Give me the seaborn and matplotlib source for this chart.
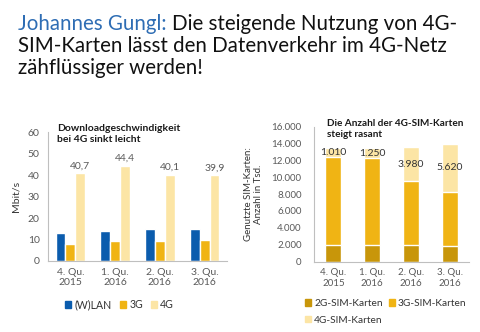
import matplotlib
matplotlib.use("Agg")
import matplotlib.pyplot as plt
import seaborn as sns
import pandas as pd
import numpy as np
from matplotlib.patches import Patch
from matplotlib.ticker import FuncFormatter, FixedLocator

quarters = ["4. Qu.\n2015", "1. Qu.\n2016", "2. Qu.\n2016", "3. Qu.\n2016"]
speed_wlan = [12.8, 13.9, 15.0, 14.7]
speed_3g = [7.8, 9.1, 9.1, 9.7]
speed_4g = [40.7, 44.4, 40.1, 39.9]
speed_labels = ["40,7", "44,4", "40,1", "39,9"]

sim_2g = [1980, 1900, 1900, 1850]
sim_3g = [10470, 10350, 7665, 6450]
sim_4g = [1010, 1250, 3980, 5620]
sim_labels = ["1.010", "1.250", "3.980", "5.620"]

C_WLAN = "#0b5cad"
C_3G = "#f0b414"
C_4G = "#fce5a5"
C_2G = "#c8960a"
GRAY = "#595959"

sns.set_theme(style="white")
plt.rcParams["font.family"] = ["Lato", "DejaVu Sans"]

W, H = 480, 332
fig = plt.figure(figsize=(4.8, 3.32), dpi=100)

# Title
TS = 14.8
t1 = fig.text(18 / W, 1 - 30 / H, "Johannes Gungl:", color="#2e6db4", fontsize=TS, va="baseline", ha="left")
r = fig.canvas.get_renderer()
bb = t1.get_window_extent(renderer=r)
fig.text((bb.x1 + 5) / W, 1 - 30 / H, "Die steigende Nutzung von 4G-", color="#111111", fontsize=TS,
         va="baseline", ha="left")
fig.text(18 / W, 1 - 52.5 / H, "SIM-Karten lässt den Datenverkehr im 4G-Netz", color="#111111",
         fontsize=TS, va="baseline", ha="left")
fig.text(18 / W, 1 - 74.5 / H, "zähflüssiger werden!", color="#111111", fontsize=TS,
         va="baseline", ha="left")


def style_axes(ax, fs):
    for sp in ["top", "right"]:
        ax.spines[sp].set_visible(False)
    for sp in ["left", "bottom"]:
        ax.spines[sp].set_color("#bfbfbf")
        ax.spines[sp].set_linewidth(0.8)
    ax.tick_params(axis="both", which="both", labelsize=fs, colors=GRAY, width=0.8, color="#bfbfbf")
    ax.tick_params(axis="y", length=4, pad=2)
    ax.tick_params(axis="x", which="major", length=0, pad=5)
    ax.tick_params(axis="x", which="minor", length=4)
    ax.xaxis.set_minor_locator(FixedLocator([-0.5, 0.5, 1.5, 2.5, 3.5]))
    ax.set_xlim(-0.5, 3.5)
    ax.set_xlabel("")


# ---- Left chart
ax1 = fig.add_axes([48 / W, 1 - 261 / H, 179 / W, 129 / H])
df1 = pd.DataFrame({
    "quarter": quarters * 3,
    "tech": ["(W)LAN"] * 4 + ["3G"] * 4 + ["4G"] * 4,
    "value": speed_wlan + speed_3g + speed_4g,
})
sns.barplot(data=df1, x="quarter", y="value", hue="tech", order=quarters,
            hue_order=["(W)LAN", "3G", "4G"],
            palette=[C_WLAN, C_3G, C_4G], width=0.66, saturation=1,
            legend=False, ax=ax1, errorbar=None)
ax1.set_ylim(0, 60)
ax1.set_yticks(range(0, 61, 10))
style_axes(ax1, 7.5)
ax1.set_ylabel("Mbit/s", fontsize=7.5, color="#333333", labelpad=5)
bars4g = ax1.containers[2]
ax1.bar_label(bars4g, labels=speed_labels, fontsize=7.5, color=GRAY, padding=2)
fig.text(57 / W, 1 - 124 / H, "Downloadgeschwindigkeit\nbei 4G sinkt leicht",
         fontsize=7.45, fontweight="bold", color="#1a1a1a", va="top", ha="left", linespacing=1.3)
fig.legend(handles=[Patch(color=C_WLAN, label="(W)LAN"), Patch(color=C_3G, label="3G"),
                    Patch(color=C_4G, label="4G")],
           loc="center left", bbox_to_anchor=(65 / W, 1 - 305 / H), ncol=3, frameon=False,
           fontsize=7.6, handlelength=0.6, handleheight=0.6, handletextpad=0.3,
           columnspacing=0.75, labelcolor="#333333", borderpad=0, borderaxespad=0)

# ---- Right chart (stacked)
ax2 = fig.add_axes([314 / W, 1 - 261.5 / H, 155 / W, 134.8 / H])
tot = np.array(sim_2g) + np.array(sim_3g) + np.array(sim_4g)
mid = np.array(sim_2g) + np.array(sim_3g)
df2 = pd.DataFrame({"quarter": quarters, "total": tot, "mid": mid, "low": sim_2g})
for col, c in [("total", C_4G), ("mid", C_3G), ("low", C_2G)]:
    sns.barplot(data=df2, x="quarter", y=col, order=quarters, color=c, width=0.41,
                saturation=1, ax=ax2, errorbar=None)
ax2.set_ylim(0, 16000)
ax2.set_yticks(range(0, 16001, 2000))
ax2.yaxis.set_major_formatter(FuncFormatter(lambda v, p: f"{int(v):,}".replace(",", ".")))
style_axes(ax2, 7)
ax2.tick_params(axis="y", pad=5)
ax2.set_ylabel("Genutzte SIM-Karten:\nAnzahl in Tsd.", fontsize=7, color="#333333", labelpad=6)
for i, lab in enumerate(sim_labels):
    ax2.text(i, mid[i] + sim_4g[i] / 2, lab, ha="center", va="center", fontsize=7.5, color="#333333")
fig.text(327 / W, 1 - 119 / H, "Die Anzahl der 4G-SIM-Karten\nsteigt rasant",
         fontsize=7.2, fontweight="bold", color="#1a1a1a", va="top", ha="left", linespacing=1.35)
# column-major fill: column 1 = 2G, 4G ; column 2 = 3G
fig.legend(handles=[Patch(color=C_2G, label="2G-SIM-Karten"), Patch(color=C_4G, label="4G-SIM-Karten"),
                    Patch(color=C_3G, label="3G-SIM-Karten")],
           loc="upper left", bbox_to_anchor=(305 / W, 1 - 299 / H), ncol=2, frameon=False,
           fontsize=7.3, handlelength=0.6, handleheight=0.6, handletextpad=0.3,
           columnspacing=0.6, labelspacing=0.75, labelcolor="#333333", borderpad=0, borderaxespad=0)

fig.savefig("out.png", dpi=100)
